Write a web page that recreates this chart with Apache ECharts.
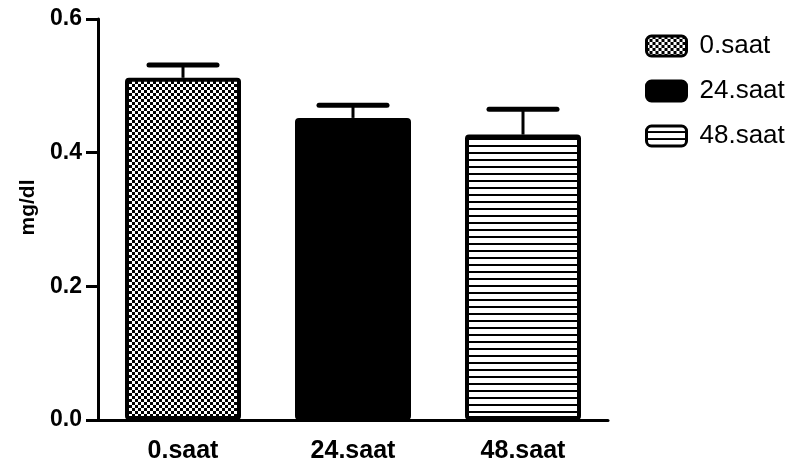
<!DOCTYPE html>
<html>
<head>
<meta charset="utf-8">
<script src="https://cdn.jsdelivr.net/npm/echarts@6/dist/echarts.min.js"></script>
<style>
  html, body { margin: 0; padding: 0; background: #fff; }
  #main { width: 791px; height: 464px; }
</style>
</head>
<body>
<div id="main"></div>
<script>
// data
const categories = ['0.saat', '24.saat', '48.saat']
const means = [0.512, 0.452, 0.427]
const sem = [0.019, 0.019, 0.038]
const yTicks = [0, 0.2, 0.4, 0.6]

// fill patterns
function checker() {
  const c = document.createElement('canvas')
  c.width = 6; c.height = 6
  const ctx = c.getContext('2d')
  ctx.fillStyle = '#fff'; ctx.fillRect(0, 0, 6, 6)
  ctx.fillStyle = '#000'
  ctx.fillRect(0, 0, 3, 3); ctx.fillRect(3, 3, 3, 3)
  return c
}
function stripes() {
  const c = document.createElement('canvas')
  c.width = 8; c.height = 7
  const ctx = c.getContext('2d')
  ctx.fillStyle = '#fff'; ctx.fillRect(0, 0, 8, 7)
  ctx.fillStyle = '#000'; ctx.fillRect(0, 5, 8, 2)
  return c
}
const fills = [
  { image: checker(), repeat: 'repeat' },
  '#000',
  { image: stripes(), repeat: 'repeat' }
]

const font = "'Liberation Sans', Arial, sans-serif"

const chart = echarts.init(document.getElementById('main'))

const barSeries = categories.map((name, i) => ({
  name: name,
  type: 'bar',
  barWidth: 116,
  barGap: '-100%',
  data: categories.map((c, j) => (j === i ? means[i] : '-')),
  itemStyle: {
    color: fills[i],
    borderColor: '#000',
    borderWidth: 4,
    borderRadius: 2
  },
  z: 2
}))

chart.setOption({
  animation: false,
  backgroundColor: '#fff',
  grid: { left: 98, right: 183, top: 19, bottom: 44 },
  legend: {
    data: categories,
    orient: 'vertical',
    left: 640,
    top: 28,
    itemWidth: 40,
    itemHeight: 20,
    itemGap: 19,
    icon: 'roundRect',
    itemStyle: { borderColor: '#000', borderWidth: 3 },
    textStyle: { fontFamily: font, fontSize: 26, color: '#000', padding: [0, 0, 0, 8] }
  },
  xAxis: {
    type: 'category',
    data: categories,
    axisLine: { lineStyle: { color: '#000', width: 3 } },
    axisTick: { alignWithLabel: true, length: 12, lineStyle: { width: 3, color: '#000' } },
    axisLabel: { fontFamily: font, fontSize: 25, fontWeight: 'bold', color: '#000', margin: 19 }
  },
  yAxis: {
    type: 'value',
    min: yTicks[0],
    max: yTicks[yTicks.length - 1],
    interval: 0.2,
    name: 'mg/dl',
    nameLocation: 'middle',
    nameGap: 58,
    nameTextStyle: { fontFamily: font, fontSize: 21, fontWeight: 'bold', color: '#000', padding: [0, 0, 0, 24] },
    splitLine: { show: false },
    axisLine: { show: true, lineStyle: { color: '#000', width: 3 } },
    axisTick: { show: true, length: 12, lineStyle: { width: 3, color: '#000' } },
    axisLabel: { fontFamily: font, fontSize: 23, fontWeight: 'bold', color: '#000', margin: 16,
      formatter: v => v.toFixed(1) }
  },
  series: [
    ...barSeries,
    {
      type: 'custom',
      name: 'sem',
      z: 3,
      data: means.map((m, i) => [i, m, m + sem[i]]),
      renderItem: (params, api) => {
        const base = api.coord([api.value(0), api.value(1)])
        const top = api.coord([api.value(0), api.value(2)])
        return {
          type: 'group',
          children: [
            { type: 'line', shape: { x1: base[0], y1: base[1], x2: top[0], y2: top[1] },
              style: { stroke: '#000', lineWidth: 3 } },
            { type: 'line', shape: { x1: top[0] - 34, y1: top[1], x2: top[0] + 34, y2: top[1] },
              style: { stroke: '#000', lineWidth: 5, lineCap: 'round' } }
          ]
        }
      }
    }
  ]
})
</script>
</body>
</html>
